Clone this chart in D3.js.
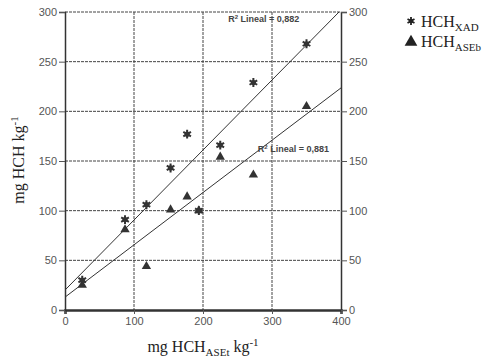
<!DOCTYPE html>
<html>
<head>
<meta charset="utf-8">
<script src="https://cdn.jsdelivr.net/npm/d3@7"></script>
<style>
  body { margin: 0; background: #fff; }
  .tick text { font-family: "Liberation Sans", Arial, sans-serif; font-size: 11px; fill: #555; }
  .title { font-family: "Liberation Serif", "Times New Roman", serif; font-size: 16px; fill: #222; }
  .r2 { font-family: "Liberation Sans", Arial, sans-serif; font-size: 9px; font-weight: bold; fill: #444; }
</style>
</head>
<body>
<svg width="488" height="359"></svg>
<script>
// data
const xVals    = [25, 87, 118, 153, 177, 194, 225, 273, 350];
const xadVals  = [30, 91, 106, 143, 177, 100, 166, 229, 268];
const asebVals = [25, 81, 44, 101, 114, 100, 154, 136, 205];
const xTicks = [0, 100, 200, 300, 400];
const yTicks = [0, 50, 100, 150, 200, 250, 300];
const r2Labels = ["0,882", "0,881"];

var svg = d3.select("svg");
var margin = {left: 65, right: 147, top: 12, bottom: 49};
var width = 488 - margin.left - margin.right;
var height = 359 - margin.top - margin.bottom;

var x = d3.scaleLinear().domain([0, 400]).range([0, width]);
var y = d3.scaleLinear().domain([0, 300]).range([height, 0]);

var g = svg.append("g").attr("transform", `translate(${margin.left},${margin.top})`);

g.append("clipPath").attr("id", "clip")
  .append("rect").attr("width", width).attr("height", height);

// grid lines
g.append("g").selectAll("line")
  .data(yTicks.slice(1))
  .enter().append("line")
  .attr("x1", 0).attr("x2", width)
  .attr("y1", d => y(d)).attr("y2", d => y(d))
  .attr("stroke", "#444").attr("stroke-width", 1).attr("stroke-dasharray", "3,1");

g.append("g").selectAll("line")
  .data(xTicks.slice(1, -1))
  .enter().append("line")
  .attr("x1", d => x(d)).attr("x2", d => x(d))
  .attr("y1", 0).attr("y2", height)
  .attr("stroke", "#444").attr("stroke-width", 1).attr("stroke-dasharray", "3,1");

// axes
var xAxis = g.append("g").attr("transform", `translate(0,${height})`)
  .call(d3.axisBottom(x).tickValues(xTicks).tickSize(4).tickPadding(3));
var yLeft = g.append("g")
  .call(d3.axisLeft(y).tickValues(yTicks).tickSize(6).tickPadding(2));
var yRight = g.append("g").attr("transform", `translate(${width},0)`)
  .call(d3.axisRight(y).tickValues(yTicks).tickSize(6).tickPadding(2));
[xAxis, yLeft, yRight].forEach(a => {
  a.select(".domain").attr("stroke", "#333");
  a.selectAll(".tick line").attr("stroke", "#555");
});
xAxis.select(".domain").attr("stroke-width", 2.5);
yLeft.select(".domain").attr("stroke-width", 1.5);
yRight.select(".domain").attr("stroke-width", 1.5);

// regression lines
function fit(xs, ys) {
  var mx = d3.mean(xs), my = d3.mean(ys);
  var sxy = d3.sum(xs, (v, i) => (v - mx) * (ys[i] - my));
  var sxx = d3.sum(xs, v => (v - mx) * (v - mx));
  var b = sxy / sxx;
  return {b: b, a: my - b * mx};
}
var fits = [fit(xVals, xadVals), fit(xVals, asebVals)];
var line = d3.line().x(d => x(d[0])).y(d => y(d[1]));
g.append("g").attr("clip-path", "url(#clip)")
  .selectAll("path")
  .data(fits)
  .enter().append("path")
  .attr("d", f => line([[0, f.a], [400, f.a + f.b * 400]]))
  .attr("fill", "none").attr("stroke", "#333").attr("stroke-width", 1);

// R² labels
function r2(px, py, val) {
  var t = g.append("text").attr("class", "r2")
    .attr("x", x(px)).attr("y", y(py)).attr("text-anchor", "middle");
  t.append("tspan").text("R");
  t.append("tspan").attr("dy", -3).attr("font-size", 6).text("2");
  t.append("tspan").attr("dy", 3).text("  Lineal = " + val);
}
r2(288, 290, r2Labels[0]);
r2(331, 159, r2Labels[1]);

// markers
var star = d3.symbol().type(d3.symbolAsterisk).size(55);
var tri = d3.symbol().type(d3.symbolTriangle).size(38);

g.append("g").selectAll("path")
  .data(xVals.map((v, i) => [v, asebVals[i]]))
  .enter().append("path")
  .attr("transform", d => `translate(${x(d[0])},${y(d[1])})`)
  .attr("d", tri).attr("fill", "#333");

var stars = g.append("g").selectAll("g")
  .data(xVals.map((v, i) => [v, xadVals[i]]))
  .enter().append("g")
  .attr("transform", d => `translate(${x(d[0])},${y(d[1])})`);
stars.append("circle").attr("r", 2.6).attr("fill", "#333");
stars.append("path").attr("d", star)
  .attr("fill", "none").attr("stroke", "#333").attr("stroke-width", 2);

// axis titles
var yt = svg.append("text").attr("class", "title")
  .attr("transform", "translate(24,160) rotate(-90)")
  .attr("text-anchor", "middle");
yt.append("tspan").text("mg HCH kg");
yt.append("tspan").attr("dy", -6).attr("font-size", 11).text("-1");

var xt = svg.append("text").attr("class", "title")
  .attr("x", 203).attr("y", 352).attr("text-anchor", "middle");
xt.append("tspan").text("mg HCH");
xt.append("tspan").attr("dy", 4).attr("font-size", 11).text("ASEt");
xt.append("tspan").attr("dy", -4).text(" kg");
xt.append("tspan").attr("dy", -6).attr("font-size", 11).text("-1");

// legend
var leg = svg.append("g");
leg.append("circle").attr("cx", 411).attr("cy", 21).attr("r", 2.3).attr("fill", "#222");
leg.append("path").attr("transform", "translate(411,21)")
  .attr("d", d3.symbol().type(d3.symbolAsterisk).size(45))
  .attr("fill", "none").attr("stroke", "#222").attr("stroke-width", 1.8);
leg.append("path").attr("transform", "translate(411,42)")
  .attr("d", d3.symbol().type(d3.symbolTriangle).size(70))
  .attr("fill", "#222");
var l1 = leg.append("text").attr("class", "title").attr("x", 421).attr("y", 27);
l1.append("tspan").text("HCH");
l1.append("tspan").attr("dy", 4).attr("font-size", 11).text("XAD");
var l2 = leg.append("text").attr("class", "title").attr("x", 421).attr("y", 47);
l2.append("tspan").text("HCH");
l2.append("tspan").attr("dy", 4).attr("font-size", 11).text("ASEb");
</script>
</body>
</html>
